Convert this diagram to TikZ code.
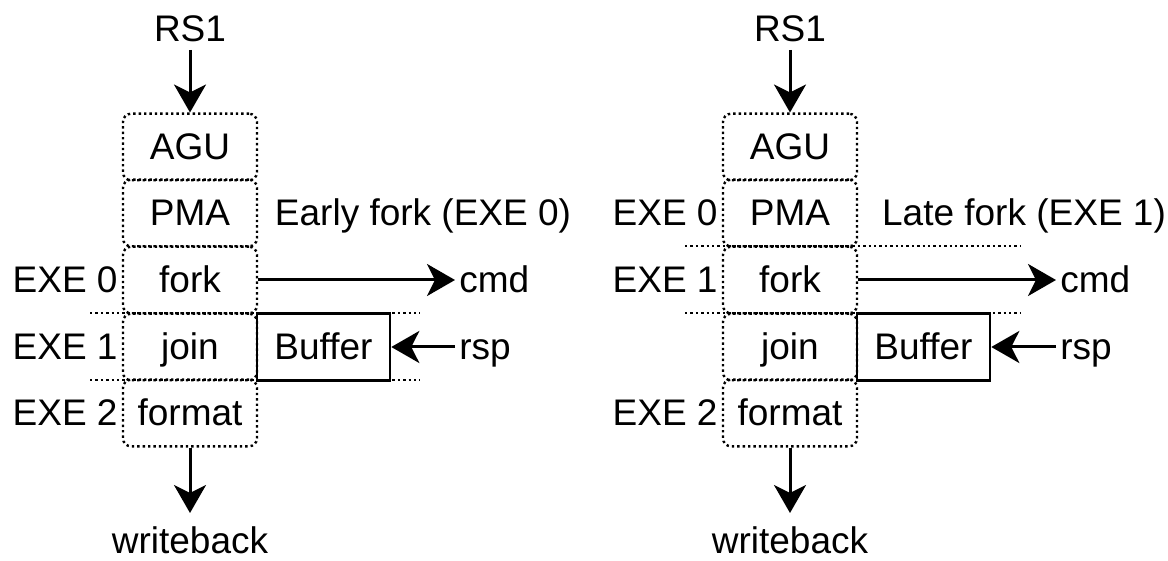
\documentclass[tikz,border=0pt]{standalone}
\usepackage{fontspec}
\setmainfont{Liberation Sans}
\usetikzlibrary{arrows.meta}

\tikzset{
  txt/.style={text height=16.7pt, text depth=3.9pt, inner sep=0pt},
  stage/.style={txt, draw, line width=1.2pt, dash pattern=on 1.2pt off 1.5pt, rounded corners=4pt,
    minimum width=67pt, minimum height=33.3pt},
  buf/.style={txt, draw, line width=1.3pt, minimum width=66.5pt, minimum height=33.3pt},
  sep/.style={line width=1.2pt, dash pattern=on 1.2pt off 1.5pt},
  arr/.style={line width=1.5pt, arrows={-Stealth[length=14pt,width=16pt,inset=4pt]}},
  lbl/.style={txt}
}

\begin{document}
\begin{tikzpicture}[x=0.5pt,y=-0.5pt,font=\fontsize{18.5}{22}\selectfont]
\useasboundingbox (0,0) rectangle (1168,561);

% early fork
\node[stage] (agua) at (190,147) {AGU};
\node[stage] (pmaa) at (190,213) {PMA};
\node[stage] (forka) at (190,280) {fork};
\node[stage] (joina) at (190,347) {join};
\node[stage] (formata) at (190,413) {format};
\node[buf] (bufa) at (323.5,347) {Buffer};

\draw[sep] (90,313) -- (420,313);
\draw[sep] (90,380) -- (420,380);

\node[lbl] (rsa) at (190,29) {RS1};
\node[lbl] (wba) at (190,541) {writeback};
\node[lbl,anchor=west] (cmda) at (459,280) {cmd};
\node[lbl,anchor=west] (rspa) at (459,347) {rsp};
\node[lbl,anchor=east] (exe0a) at (118,280) {EXE 0};
\node[lbl,anchor=east] (exe1a) at (118,347) {EXE 1};
\node[lbl,anchor=east] (exe2a) at (118,413) {EXE 2};
\node[lbl] (titlea) at (423,213) {Early fork (EXE 0)};

\draw[arr] (rsa) -- (agua);
\draw[arr,shorten >=3.5pt] (formata) -- (wba);
\draw[arr,shorten >=2pt] (forka) -- (cmda);
\draw[arr,shorten <=2pt] (rspa) -- (bufa);

% late fork
\node[stage] (agub) at (790,147) {AGU};
\node[stage] (pmab) at (790,213) {PMA};
\node[stage] (forkb) at (790,280) {fork};
\node[stage] (joinb) at (790,347) {join};
\node[stage] (formatb) at (790,413) {format};
\node[buf] (bufb) at (923.5,347) {Buffer};

\draw[sep] (685,246) -- (1020,246);
\draw[sep] (685,313) -- (1020,313);

\node[lbl] (rsb) at (790,29) {RS1};
\node[lbl] (wbb) at (790,541) {writeback};
\node[lbl,anchor=west] (cmdb) at (1060,280) {cmd};
\node[lbl,anchor=west] (rspb) at (1060,347) {rsp};
\node[lbl,anchor=east] (exe0b) at (718,213) {EXE 0};
\node[lbl,anchor=east] (exe1b) at (718,280) {EXE 1};
\node[lbl,anchor=east] (exe2b) at (718,413) {EXE 2};
\node[lbl] (titleb) at (1024,213) {Late fork (EXE 1)};

\draw[arr] (rsb) -- (agub);
\draw[arr,shorten >=3.5pt] (formatb) -- (wbb);
\draw[arr,shorten >=2pt] (forkb) -- (cmdb);
\draw[arr,shorten <=2pt] (rspb) -- (bufb);
\end{tikzpicture}
\end{document}
